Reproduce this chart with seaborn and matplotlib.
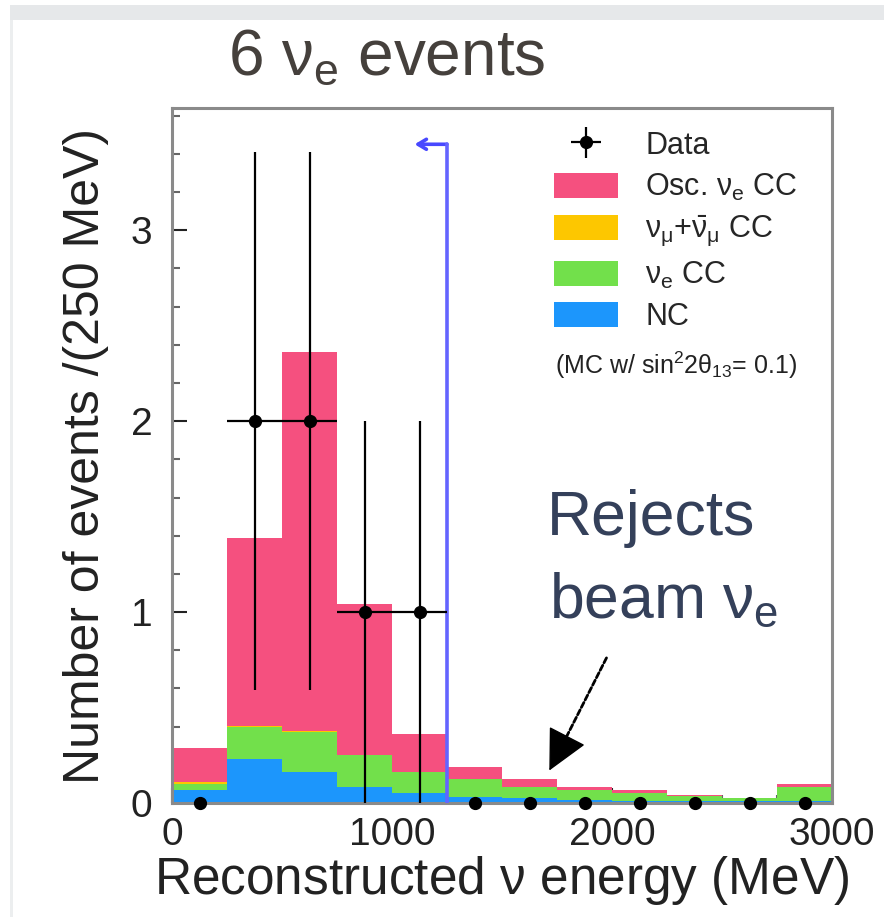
import pandas as pd
import seaborn as sns
import matplotlib.pyplot as plt
from matplotlib.patches import Patch, Rectangle

# reconstructed energy bins (MeV), 250 MeV wide
bin_edges = [0, 250, 500, 750, 1000, 1250, 1500, 1750, 2000, 2250, 2500, 2750, 3000]
bin_centres = [125, 375, 625, 875, 1125, 1375, 1625, 1875, 2125, 2375, 2625, 2875]

# MC components per bin (events / 250 MeV), bottom to top of the stack
nc = [0.068, 0.23, 0.16, 0.085, 0.05, 0.03, 0.025, 0.015, 0.010, 0.010, 0.008, 0.010]
nue_cc = [0.032, 0.17, 0.21, 0.165, 0.11, 0.095, 0.060, 0.053, 0.040, 0.026, 0.018, 0.073]
numu_cc = [0.012, 0.005, 0.005, 0.003, 0.002, 0.002, 0.001, 0.001, 0.001, 0.001, 0.001, 0.001]
osc_nue_cc = [0.178, 0.985, 1.985, 0.787, 0.198, 0.063, 0.039, 0.017, 0.015, 0.004, 0.001, 0.016]

# observed events and their errors
data_counts = [0, 2, 2, 1, 1, 0, 0, 0, 0, 0, 0, 0]
data_err = [0, 1.41, 1.41, 1.0, 1.0, 0, 0, 0, 0, 0, 0, 0]

components = ["Osc. nue CC", "numu CC", "nue CC", "NC"]
component_values = [osc_nue_cc, numu_cc, nue_cc, nc]
colors = ["#f5507f", "#fdc700", "#72e04b", "#1c96fc"]
legend_labels = [r"Osc. $\nu_e$ CC", r"$\nu_\mu$+$\bar{\nu}_\mu$ CC", r"$\nu_e$ CC", "NC"]

rows = []
for name, vals in zip(components, component_values):
    for c, v in zip(bin_centres, vals):
        rows.append({"energy": c, "weight": v, "component": name})
df = pd.DataFrame(rows)

sns.set_theme(style="ticks")
plt.rcParams["font.family"] = ["Liberation Sans", "DejaVu Sans"]
plt.rcParams["mathtext.fontset"] = "custom"
plt.rcParams["mathtext.rm"] = "Liberation Sans"
plt.rcParams["mathtext.it"] = "Liberation Sans"
plt.rcParams["mathtext.bf"] = "Liberation Sans:bold"

fig = plt.figure(figsize=(8.84, 9.17), dpi=100)
ax = fig.add_axes([172 / 884, 1 - 803 / 917, 660 / 884, 695 / 917])

sns.histplot(data=df, x="energy", weights="weight", hue="component", hue_order=components,
             bins=bin_edges, multiple="stack", element="step", fill=True, alpha=1,
             linewidth=0, palette=colors, legend=False, ax=ax)

# data points
nz = [i for i, n in enumerate(data_counts) if n > 0]
zr = [i for i, n in enumerate(data_counts) if n == 0]
data_h = ax.errorbar([bin_centres[i] for i in nz], [data_counts[i] for i in nz],
                     xerr=125, yerr=[data_err[i] for i in nz], fmt="o", color="black",
                     ms=8.5, elinewidth=1.6, capsize=0, zorder=5)
ax.plot([bin_centres[i] for i in zr], [data_counts[i] for i in zr], "o", color="black",
        ms=8.5, clip_on=False, zorder=6)

# energy cut
ax.plot([1250, 1250], [0, 3.45], color="#6464ff", lw=2.6, zorder=4)
ax.annotate("", xy=(1090, 3.45), xytext=(1262, 3.45),
            arrowprops=dict(arrowstyle="->,head_length=0.5,head_width=0.3",
                            color="#4848ff", lw=2.6))

ax.set_xlim(0, 3000)
ax.set_ylim(0, 3.64)
ax.set_xticks([0, 1000, 2000, 3000])
ax.set_xticks(bin_edges, minor=True)
ax.set_yticks([0, 1, 2, 3])
ax.set_yticks([i * 0.2 for i in range(19)], minor=True)
ax.tick_params(which="both", direction="in", color="#666666", width=1.5)
ax.tick_params(which="major", length=11, labelsize=28, colors="#222222")
ax.tick_params(which="minor", length=6)
ax.tick_params(axis="y", which="major", pad=14)
ax.tick_params(axis="x", which="major", pad=10)
for s in ax.spines.values():
    s.set_color("#8a8a8a")
    s.set_linewidth(2.2)

ax.set_xlabel(r"Reconstructed $\nu$ energy (MeV)", fontsize=37, color="#222222", labelpad=1)
ax.set_ylabel("Number of events /(250 MeV)", fontsize=36, color="#222222", labelpad=16)

handles = [data_h] + [Patch(facecolor=c, edgecolor="none") for c in colors]
ax.legend(handles, ["Data"] + legend_labels, loc="upper left", bbox_to_anchor=(0.56, 0.985),
          frameon=False, fontsize=22, handlelength=2.1, handleheight=0.9,
          handletextpad=0.9, labelspacing=0.36, borderaxespad=0)
ax.text(0.58, 0.63, r"(MC w/ sin$^2$2$\theta_{13}$= 0.1)", transform=ax.transAxes,
        fontsize=18, color="#222222", va="center")

# annotation
fig.text(547 / 884, 1 - 535 / 917, "Rejects", fontsize=45, color="#34405a")
fig.text(549 / 884, 1 - 618 / 917, r"beam $\nu_e$", fontsize=45, color="#34405a")
ax.annotate("", xy=(1790, 0.34), xytext=(1975, 0.76),
            arrowprops=dict(arrowstyle="-", color="black", lw=2, linestyle=(0, (2, 1)),
                            shrinkA=0, shrinkB=0))
ax.annotate("", xy=(1715, 0.17), xytext=(1800, 0.36),
            arrowprops=dict(arrowstyle="-|>,head_length=1.2,head_width=0.6", mutation_scale=22,
                            color="black", lw=1, shrinkA=0, shrinkB=0))

fig.text(387 / 884, 1 - 75 / 917, r"6 $\nu_e$ events", fontsize=46, color="#45403c",
         ha="center", family=["Liberation Sans Narrow", "Liberation Sans"])

# screenshot frame
fig.patches.append(Rectangle((10 / 884, 1 - 20 / 917), 1, 15 / 917, transform=fig.transFigure,
                             facecolor="#e6e8ea", edgecolor="none"))
fig.patches.append(Rectangle((10 / 884, 0), 3 / 884, 1 - 20 / 917, transform=fig.transFigure,
                             facecolor="#eceeef", edgecolor="none"))

fig.savefig("out.png", dpi=100)
